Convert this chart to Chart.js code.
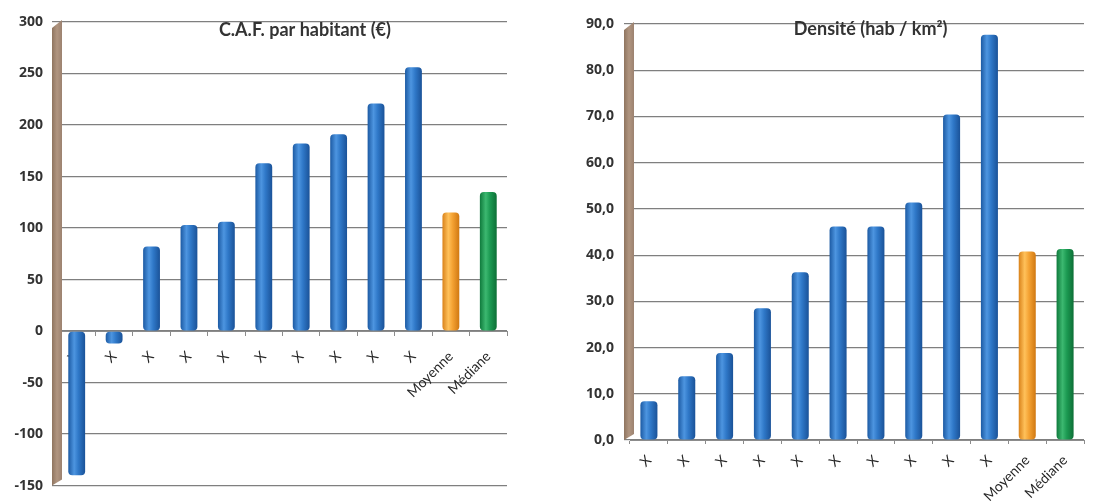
<!DOCTYPE html>
<html lang="fr">
<head>
<meta charset="utf-8">
<title>C.A.F. par habitant et densité</title>
<script src="https://cdn.jsdelivr.net/npm/chart.js@4.4.1/dist/chart.umd.min.js"></script>
<style>
  html, body { margin: 0; padding: 0; background: #ffffff; }
  body { width: 1096px; height: 503px; position: relative; overflow: hidden; }
  .panel { position: absolute; top: 0; width: 548px; height: 503px; }
  #left { left: 0; }
  #right { left: 548px; }
</style>
</head>
<body>
<div class="panel" id="left"><canvas id="cafChart" width="548" height="503"></canvas></div>
<div class="panel" id="right"><canvas id="densChart" width="548" height="503"></canvas></div>
<script>
// Communes (anonymised) followed by the two summary columns
const categories = ['X', 'X', 'X', 'X', 'X', 'X', 'X', 'X', 'X', 'X', 'Moyenne', 'Médiane'];

// Capacité d'autofinancement par habitant (€)
const cafValues = [-140, -12, 82, 103, 106, 163, 182, 191, 221, 256, 115, 135];
const cafTicks = [-150, -100, -50, 0, 50, 100, 150, 200, 250, 300];

// Densité de population (hab / km²)
const densityValues = [8.4, 13.8, 18.8, 28.5, 36.3, 46.2, 46.2, 51.4, 70.4, 87.7, 40.8, 41.3];
const densityTicks = [0, 10, 20, 30, 40, 50, 60, 70, 80, 90];

const chartTitles = ['C.A.F. par habitant (€)', 'Densité (hab / km²)'];

// Cylinder shading: dark edge, light band, dark edge
const palettes = {
  blue:   ['#1c5aa3', '#4d95e0', '#2f78c8', '#1a5298'],
  orange: ['#d9821a', '#ffc15a', '#f4a233', '#d07812'],
  green:  ['#0f7a3c', '#3cb870', '#1c9a52', '#0d6f36']
};

const BAR_SHARE = 0.45;

function barFill(ctx) {
  const chart = ctx.chart;
  const i = ctx.dataIndex;
  const pal = i === 10 ? palettes.orange : (i === 11 ? palettes.green : palettes.blue);
  const xScale = chart.scales.x;
  if (!xScale || !chart.chartArea) return pal[2];
  const cx = xScale.getPixelForValue(i);
  const half = (xScale.width / categories.length) * BAR_SHARE / 2;
  const g = chart.ctx.createLinearGradient(cx - half, 0, cx + half, 0);
  g.addColorStop(0, pal[0]);
  g.addColorStop(0.35, pal[1]);
  g.addColorStop(0.6, pal[2]);
  g.addColorStop(1, pal[3]);
  return g;
}

// Brown side wall and the title printed on the back wall
const wallPlugin = {
  id: 'wall',
  beforeDatasetsDraw(chart, args, opts) {
    const { ctx, chartArea } = chart;
    const x0 = chartArea.left - 6;
    const g = ctx.createLinearGradient(x0, 0, x0 + 10, 0);
    g.addColorStop(0, '#8f7560');
    g.addColorStop(0.5, '#b09580');
    g.addColorStop(1, '#9c8270');
    ctx.save();
    ctx.fillStyle = g;
    ctx.beginPath();
    ctx.moveTo(x0, chartArea.top + 6);
    ctx.lineTo(x0 + 10, chartArea.top - 2);
    ctx.lineTo(x0 + 10, chartArea.bottom - 6);
    ctx.lineTo(x0, chartArea.bottom);
    ctx.closePath();
    ctx.fill();
    ctx.restore();
  },
  afterDraw(chart, args, opts) {
    const { ctx, chartArea } = chart;
    ctx.save();
    ctx.font = 'bold 18px Lato, "Open Sans", sans-serif';
    ctx.fillStyle = '#333333';
    ctx.textAlign = 'center';
    ctx.textBaseline = 'middle';
    ctx.fillText(opts.text, chartArea.left + (chartArea.right - chartArea.left) * opts.xFrac, chartArea.top + opts.dy);
    ctx.restore();
  }
};

Chart.register(wallPlugin);

const tickFont = { family: '"Open Sans", Lato, sans-serif', size: 14, weight: 'bold' };
const catFont = { family: 'Lato, "Open Sans", sans-serif', size: 14 };

function makeChart(canvasId, values, tickValues, cfg) {
  return new Chart(document.getElementById(canvasId), {
    type: 'bar',
    data: {
      labels: categories,
      datasets: [{
        data: values,
        backgroundColor: barFill,
        borderWidth: 0,
        borderRadius: 4,
        borderSkipped: false,
        barPercentage: BAR_SHARE,
        categoryPercentage: 1.0
      }]
    },
    options: {
      responsive: false,
      animation: false,
      devicePixelRatio: 1,
      layout: { padding: cfg.padding },
      plugins: {
        legend: { display: false },
        tooltip: { enabled: false },
        wall: { text: cfg.title, xFrac: cfg.titleX, dy: cfg.titleDy }
      },
      scales: {
        x: {
          position: cfg.xPosition,
          grid: { display: true, drawOnChartArea: false, tickLength: 4, color: '#8c8c8c' },
          border: { display: true, color: '#8c8c8c' },
          ticks: {
            font: catFont, color: '#262626',
            minRotation: 45, maxRotation: 45, padding: cfg.xPad, autoSkip: false
          },
          afterFit(scale) { if (cfg.xHeight) scale.height = cfg.xHeight; }
        },
        y: {
          min: tickValues[0],
          max: tickValues[tickValues.length - 1],
          afterBuildTicks(scale) { scale.ticks = tickValues.map(v => ({ value: v })); },
          grid: { color: '#7f7f7f', lineWidth: 1.2, tickLength: 6 },
          border: { display: false },
          ticks: {
            font: tickFont, color: '#333333', padding: cfg.tickPad,
            callback: cfg.format
          },
          afterFit(scale) { scale.width = cfg.yWidth; }
        }
      }
    }
  });
}

makeChart('cafChart', cafValues, cafTicks, {
  title: chartTitles[0], titleX: 0.55, titleDy: 8,
  padding: { top: 22, bottom: 6, left: 0, right: 41 },
  xPosition: { y: 0 }, xHeight: null, xPad: 13,
  yWidth: 58, tickPad: 9,
  format: v => String(v)
});

makeChart('densChart', densityValues, densityTicks, {
  title: chartTitles[1], titleX: 0.53, titleDy: 5,
  padding: { top: 24, bottom: 0, left: 0, right: 12 },
  xPosition: 'bottom', xHeight: 63, xPad: 8,
  yWidth: 82, tickPad: 10,
  format: v => v.toFixed(1).replace('.', ',')
});
</script>
</body>
</html>
